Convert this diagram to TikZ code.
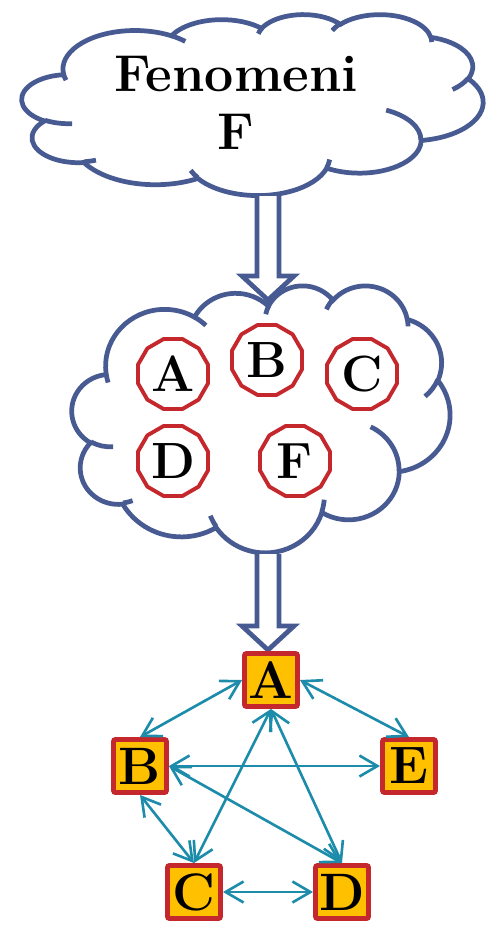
\documentclass[tikz,border=0pt]{standalone}
\usetikzlibrary{shapes.geometric,arrows.meta,calc}
\definecolor{cloudblue}{RGB}{72,90,146}
\definecolor{ringred}{RGB}{196,40,44}
\definecolor{boxgold}{RGB}{255,192,0}
\definecolor{linkteal}{RGB}{28,140,170}
\tikzset{
  cloudline/.style={draw=cloudblue, line width=2.7pt, fill=white},
  lobe/.style n args={4}{x radius=#1, y radius=#2,
    start angle={atan2(#1*sin(#3),#2*cos(#3))},
    delta angle={mod(atan2(#1*sin(#3+#4),#2*cos(#3+#4))-atan2(#1*sin(#3),#2*cos(#3))+720,360)}},
  ring/.style={draw=ringred, line width=2.2pt, regular polygon, regular polygon sides=12,
    minimum size=1.45cm, inner sep=0pt, font=\fontsize{29}{29}\selectfont\bfseries},
  card/.style={draw=ringred, line width=2.8pt, fill=boxgold, minimum size=1.06cm,
    inner sep=0pt, rounded corners=1.2pt, font=\fontsize{30}{30}\selectfont\bfseries},
  link/.style={draw=linkteal, line width=1.5pt,
    {Straight Barb[length=0.36cm,width=0.42cm]}-{Straight Barb[length=0.36cm,width=0.42cm]}},
}
% cloud outline in a 432 x 432 box
\newcommand{\fluffy}{%
  \draw[cloudline] (39.00,143.70)
    arc[lobe={67.53}{91.90}{-190.4875}{123.7805}]
    arc[lobe={53.33}{72.67}{-144.1024}{89.9452}]
    arc[lobe={43.65}{59.45}{-145.8079}{99.7230}]
    arc[lobe={48.57}{65.95}{-130.9861}{117.2417}]
    arc[lobe={53.33}{72.73}{-78.7089}{109.0269}]
    arc[lobe={67.75}{92.20}{-46.2673}{130.2690}]
    arc[lobe={57.85}{78.67}{0.6250}{114.0333}]
    arc[lobe={67.52}{92.15}{22.4516}{115.1726}]
    arc[lobe={77.20}{105.43}{66.2426}{75.7110}]
    arc[lobe={43.60}{59.18}{-274.9421}{146.7356}]
    arc[lobe={43.45}{59.45}{-246.8285}{152.5189}] -- cycle;
  \draw[cloudline, fill=none]
    (46.93,261.77) arc[lobe={43.45}{59.45}{86.7420}{26.4295}]
    (69.28,348.99) arc[lobe={43.60}{59.18}{73.6105}{11.4475}]
    (164.78,390.90) arc[lobe={67.52}{92.15}{137.6242}{14.0811}]
    (288.27,347.51) arc[lobe={67.52}{92.15}{6.4533}{15.9984}]
    (341.29,229.54) arc[lobe={57.85}{78.67}{-70.2924}{70.9174}]
    (417.98,153.54) arc[lobe={53.33}{72.73}{30.3180}{27.7515}]
    (383.24,54.26) arc[lobe={48.57}{65.95}{-13.7443}{14.8589}]
    (290.78,39.52) arc[lobe={48.57}{65.95}{-149.1815}{18.1954}]
    (221.41,47.20) arc[lobe={43.65}{59.45}{-163.4943}{17.6864}]
    (140.00,51.92) arc[lobe={67.53}{91.90}{-66.7070}{12.3194}]
    (41.27,157.89) arc[lobe={67.53}{91.90}{157.6544}{11.8582}];}
% hollow block arrow, open at the top: #1 = top of shaft, #2 = tip
\newcommand{\blockarrow}[2]{%
  \draw[cloudline, line join=miter] ($(#1)+(-11,0)$) -- ($(#2)+(-11,-24)$) -- ($(#2)+(-26,-24)$)
    -- (#2) -- ($(#2)+(26,-24)$) -- ($(#2)+(11,-24)$) -- ($(#1)+(11,0)$);}
\begin{document}
\begin{tikzpicture}[x=0.02cm, y=-0.02cm]
\path[use as bounding box] (0,0) rectangle (490,931);

\begin{scope}[shift={(22,14)}, x=0.021343cm, y=-0.0083796cm]
  \fluffy
\end{scope}
\node[align=center, font=\fontsize{29.5}{33}\selectfont\bfseries] (title) at (236,103) {Fenomeni\\F};

\begin{scope}[shift={(72,285)}, x=0.0175cm, y=-0.012361cm]
  \fluffy
\end{scope}

\coordinate (top1) at (268,196);
\coordinate (tip1) at (268,300);
\coordinate (top2) at (268,554);
\coordinate (tip2) at (268,650);
\blockarrow{top1}{tip1}
\blockarrow{top2}{tip2}

\node[ring] (pA) at (173,374) {A};
\node[ring] (pB) at (267,360) {B};
\node[ring] (pC) at (362,374) {C};
\node[ring] (pD) at (173,461) {D};
\node[ring] (pF) at (295,461) {F};

\node[card] (A) at (271,680) {A};
\node[card] (B) at (140,766) {B};
\node[card] (E) at (409,766) {E};
\node[card] (C) at (194,892) {C};
\node[card] (D) at (342,892) {D};

\draw[link] (A.west) -- (B.north);
\draw[link] (A.east) -- (E.north);
\draw[link] (A.south) -- (C.north);
\draw[link] (A.south) -- (D.north);
\draw[link] (B.east) -- (E.west);
\draw[link] (B.east) -- (D.north);
\draw[link] (B.south) -- (C.north);
\draw[link] (C.east) -- (D.west);
\end{tikzpicture}
\end{document}
